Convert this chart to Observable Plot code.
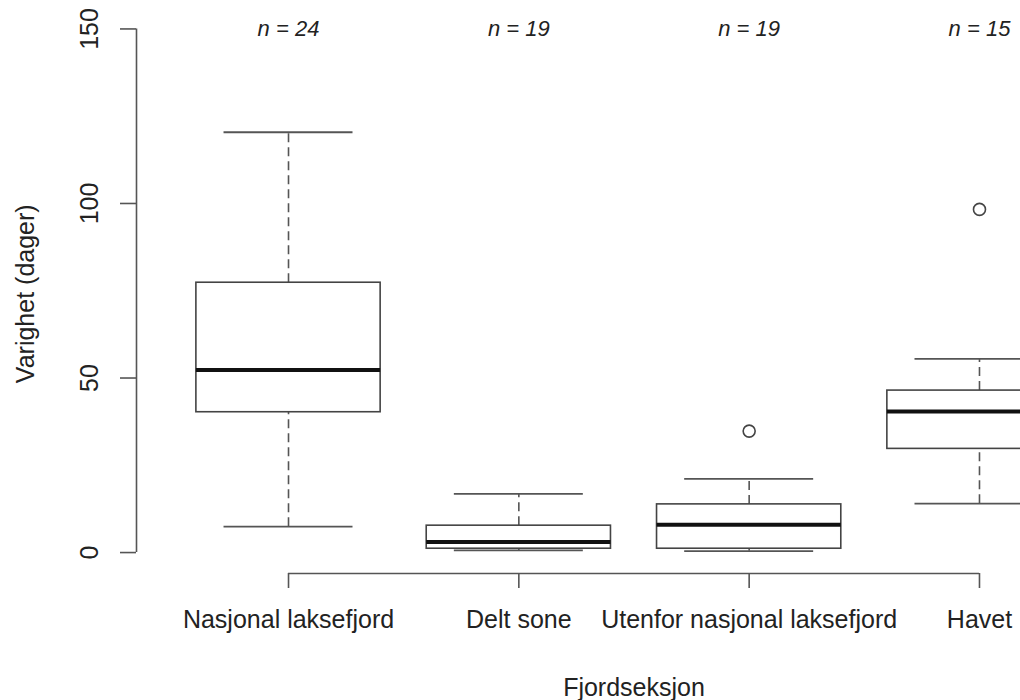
<!DOCTYPE html>
<html>
<head>
<meta charset="utf-8">
<script src="https://cdn.jsdelivr.net/npm/d3@7"></script>
<script src="https://cdn.jsdelivr.net/npm/@observablehq/plot@0.6"></script>
<style>
  html, body { margin: 0; padding: 0; background: white; overflow: hidden; }
</style>
</head>
<body>
<div id="chart"></div>
<script>
const categories = ["Nasjonal laksefjord", "Delt sone", "Utenfor nasjonal laksefjord", "Havet"];
const counts = [24, 19, 19, 15];
const whiskerLow  = [7.4, 0.6, 0.4, 14.0];
const q1          = [40.2, 1.1, 1.1, 29.7];
const median      = [52.3, 3.0, 8.0, 40.4];
const q3          = [77.3, 7.7, 13.8, 46.4];
const whiskerHigh = [120.4, 16.8, 21.1, 55.5];
const outlierGroup = ["Utenfor nasjonal laksefjord", "Havet"];
const outlierValue = [34.8, 98.3];
const yTicks = [0, 50, 100, 150];
const xTitle = "Fjordseksjon";
const yTitle = "Varighet (dager)";

const xDomain = [0.34, 4.66];
const yDomain = [-6, 156];

const boxes = categories.map((c, i) => ({
  pos: i + 1, cat: c, n: counts[i],
  lo: whiskerLow[i], q1: q1[i], med: median[i], q3: q3[i], hi: whiskerHigh[i]
}));
const outliers = outlierGroup.map((c, i) => ({pos: categories.indexOf(c) + 1, value: outlierValue[i]}));
const xTicks = boxes.map(d => d.pos);

const halfBox = 0.4, halfCap = 0.28;
const lineCol = "#444", whiskCol = "#555";
const fs = 25;

const chart = Plot.plot({
  width: 1020,
  height: 700,
  marginLeft: 136,
  marginRight: 0,
  marginTop: 7.5,
  marginBottom: 127,
  style: {fontFamily: "'Liberation Sans', Arial, sans-serif", fontSize: fs + "px", background: "white", overflow: "hidden"},
  x: {type: "linear", domain: xDomain, range: [136, 1131], axis: null},
  y: {domain: yDomain, range: [573, 7.5], axis: null},
  marks: [
    // whiskers (dashed)
    Plot.ruleX(boxes, {x: "pos", y1: "q3", y2: "hi", stroke: whiskCol, strokeWidth: 1.6, strokeDasharray: "9,5"}),
    Plot.ruleX(boxes, {x: "pos", y1: "lo", y2: "q1", stroke: whiskCol, strokeWidth: 1.6, strokeDasharray: "9,5"}),
    // caps
    Plot.ruleY(boxes, {y: "hi", x1: d => d.pos - halfCap, x2: d => d.pos + halfCap, stroke: whiskCol, strokeWidth: 1.8}),
    Plot.ruleY(boxes, {y: "lo", x1: d => d.pos - halfCap, x2: d => d.pos + halfCap, stroke: whiskCol, strokeWidth: 1.8}),
    // boxes
    Plot.rect(boxes, {x1: d => d.pos - halfBox, x2: d => d.pos + halfBox, y1: "q1", y2: "q3", fill: "white", stroke: lineCol, strokeWidth: 1.6}),
    // medians
    Plot.ruleY(boxes, {y: "med", x1: d => d.pos - halfBox, x2: d => d.pos + halfBox, stroke: "#111", strokeWidth: 4}),
    // outliers
    Plot.dot(outliers, {x: "pos", y: "value", r: 6, stroke: lineCol, strokeWidth: 1.6, fill: "none"}),
    // n labels
    Plot.text(boxes, {x: "pos", y: () => yTicks[yTicks.length - 1], text: d => `n = ${d.n}`, fontStyle: "italic", fontSize: 22, lineAnchor: "middle", fill: "#222"}),
    // y axis line
    Plot.ruleX([xDomain[0]], {y1: yTicks[0], y2: yTicks[yTicks.length - 1], stroke: whiskCol, strokeWidth: 1.6}),
    Plot.axisY({ticks: yTicks, tickSize: 16, tickFormat: () => "", label: null, stroke: whiskCol, strokeWidth: 1.6}),
    Plot.text(yTicks, {frameAnchor: "left", y: d => d, text: d => String(d), rotate: -90, dx: -39, lineAnchor: "bottom", textAnchor: "middle", fontSize: fs, fill: "#222"}),
    // x axis line
    Plot.ruleY([yDomain[0]], {x1: xTicks[0], x2: xTicks[xTicks.length - 1], stroke: whiskCol, strokeWidth: 1.6}),
    Plot.axisX({ticks: xTicks, tickFormat: i => categories[i - 1], tickSize: 15, tickPadding: 22, fontSize: fs, label: null, stroke: whiskCol, strokeWidth: 1.6, fill: "#222"}),
    // titles
    Plot.text([xTitle], {x: () => (xDomain[0] + xDomain[1]) / 2, frameAnchor: "bottom", dy: 122, text: d => d, lineAnchor: "bottom", fontSize: fs, fill: "#222"}),
    Plot.text([yTitle], {frameAnchor: "left", dx: -103, dy: 3, text: d => d, rotate: -90, lineAnchor: "bottom", textAnchor: "middle", fontSize: fs, fill: "#222"})
  ]
});
document.getElementById("chart").appendChild(chart);
</script>
</body>
</html>
